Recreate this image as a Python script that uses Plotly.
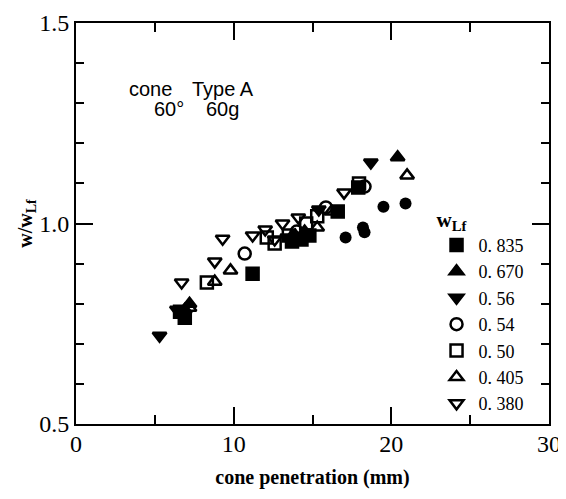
import plotly.graph_objects as go

# ---- data ----
x_835 = [6.6, 6.9, 11.2, 13.7, 14.3, 14.8, 16.6, 17.9]
y_835 = [0.78, 0.765, 0.875, 0.955, 0.96, 0.97, 1.03, 1.09]
x_670 = [7.2, 6.9, 13.9, 14.5, 20.4]
y_670 = [0.80, 0.785, 0.97, 0.98, 1.165]
x_56 = [5.3, 6.4, 13.4, 15.4, 18.7]
y_56 = [0.72, 0.785, 0.965, 1.035, 1.152]
x_54 = [10.7, 14.0, 15.85, 18.3]
y_54 = [0.925, 0.98, 1.04, 1.092]
x_50 = [8.3, 12.1, 12.6, 13.5, 14.6, 15.3, 17.95]
y_50 = [0.853, 0.965, 0.95, 0.97, 1.0, 1.018, 1.10]
x_405 = [7.2, 8.8, 9.8, 13.7, 15.3, 16.2, 21.0]
y_405 = [0.79, 0.855, 0.883, 0.968, 0.99, 1.03, 1.12]
x_380 = [6.7, 8.8, 9.3, 11.2, 12.0, 12.6, 13.1, 14.1, 17.0]
y_380 = [0.853, 0.905, 0.962, 0.97, 0.985, 0.96, 1.0, 1.015, 1.077]
x_fc = [17.1, 18.2, 18.3, 19.5, 20.9]
y_fc = [0.965, 0.99, 0.978, 1.042, 1.05]

series = [
    ("0. 835", x_835, y_835, "square"),
    ("0. 670", x_670, y_670, "triangle-up"),
    ("0. 56", x_56, y_56, "triangle-down"),
    ("0. 54", x_54, y_54, "circle-open"),
    ("0. 50", x_50, y_50, "square-open"),
    ("0. 405", x_405, y_405, "triangle-up-open"),
    ("0. 380", x_380, y_380, "triangle-down-open"),
]

SERIF = "Liberation Serif, Times New Roman, serif"
SANS = "Liberation Sans, Arial, sans-serif"

fig = go.Figure()
for name, xs, ys, sym in series:
    fig.add_trace(go.Scatter(
        x=xs, y=ys, mode="markers", name=name,
        marker=dict(symbol=sym, size=12, color="black",
                    line=dict(color="black", width=2.5)),
    ))
fig.add_trace(go.Scatter(
    x=x_fc, y=y_fc, mode="markers", showlegend=False,
    marker=dict(symbol="circle", size=12, color="black"),
))

ann_font = dict(family=SANS, size=20, color="black")
fig.add_annotation(x=4.7, y=1.335, text="cone", showarrow=False, font=ann_font)
fig.add_annotation(x=9.3, y=1.335, text="Type A", showarrow=False, font=ann_font)
fig.add_annotation(x=5.9, y=1.285, text="60°", showarrow=False, font=ann_font)
fig.add_annotation(x=9.3, y=1.285, text="60g", showarrow=False, font=ann_font)

axis_common = dict(
    showline=True, linecolor="black", linewidth=2, mirror="allticks",
    ticks="inside", tickcolor="black", tickwidth=2, ticklen=17,
    showgrid=False, zeroline=False, automargin=False,
    tickfont=dict(family=SERIF, size=24, color="black"),
)

fig.update_xaxes(
    range=[0, 30], tickvals=[0, 10, 20, 30],
    minor=dict(dtick=5, ticks="inside", ticklen=9, tickwidth=1.5, tickcolor="black"),
    title=dict(text="<b>cone penetration (mm)</b>",
               font=dict(family=SERIF, size=20, color="black"), standoff=14),
    ticklabelstandoff=-3,
    **axis_common,
)
fig.update_yaxes(
    range=[0.5, 1.5], tickvals=[0.5, 1.0, 1.5], ticktext=["0.5", "1.0", "1.5"],
    minor=dict(dtick=0.1, ticks="inside", ticklen=8, tickwidth=1.5, tickcolor="black"),
    title=dict(text="<b>w/w<sub>Lf</sub></b>",
               font=dict(family=SERIF, size=20, color="black"), standoff=0),
    **axis_common,
)

fig.update_layout(
    width=566, height=499,
    margin=dict(l=68, r=25, t=15, b=83),
    paper_bgcolor="white", plot_bgcolor="white",
    showlegend=True,
    legend=dict(
        x=0.758, y=0.56, xanchor="left", yanchor="top",
        bgcolor="rgba(0,0,0,0)", borderwidth=0,
        font=dict(family=SERIF, size=18, color="black"),
        title=dict(text="<b>w<sub>Lf</sub></b>",
                   font=dict(family=SERIF, size=21, color="black")),
        tracegroupgap=0, itemwidth=34,
    ),
)

fig.write_html("out.html")
